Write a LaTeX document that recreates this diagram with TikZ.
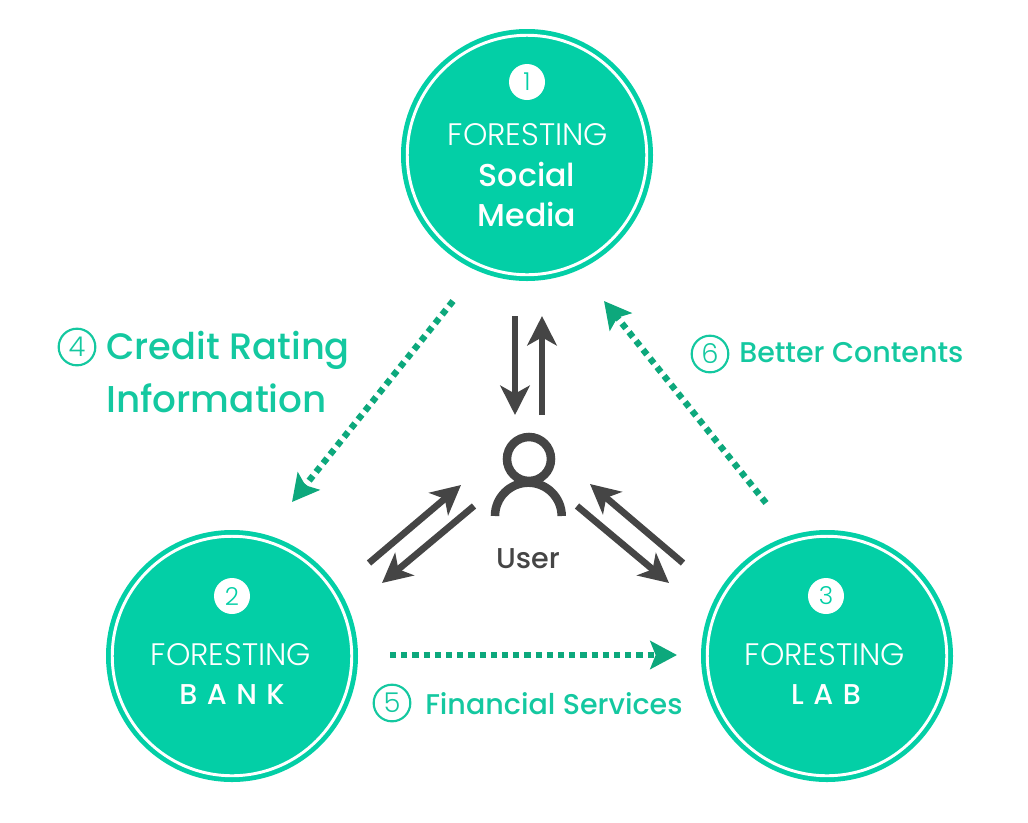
\documentclass[tikz,border=0pt]{standalone}
\usepackage{fontspec}
\usetikzlibrary{arrows.meta}
\newfontfamily\plight{Poppins Light}
\newfontfamily\pmed{Poppins Medium}
\definecolor{teal}{HTML}{03CFA6}
\definecolor{labelgreen}{HTML}{14C8A0}
\definecolor{dotgreen}{HTML}{0DA87C}
\definecolor{arrowgray}{HTML}{454545}
\newcommand{\fs}[1]{\fontsize{#1}{#1}\selectfont}
\tikzset{
  x=0.75pt,y=-0.75pt,
  disc/.style={circle,fill=teal,minimum size=189pt,inner sep=0pt,outer sep=0pt},
  ringline/.style={draw=white,line width=2.2pt,fill=none},
  badge/.style={circle,fill=white,minimum size=27pt,inner sep=0pt,text=teal,font=\plight\fs{18.5}},
  thin head/.style={text=white,font=\plight\fs{23.3},inner sep=0pt},
  bold head/.style={text=white,font=\pmed\fs{23.7},inner sep=0pt},
  numring/.style={circle,draw=labelgreen,line width=1.6pt,minimum size=27.5pt,inner sep=0pt,text=labelgreen,font=\plight\fs{20.5}},
  greenlabel/.style={text=labelgreen,inner sep=0pt,anchor=west},
  two way/.style={draw=arrowgray,line width=5pt,-{Stealth[length=22pt,width=22pt,inset=6pt]}},
  dotflow/.style={draw=dotgreen,line width=4.8pt,dash pattern=on 4.6pt off 3.8pt,-{Stealth[length=20pt,width=21pt,inset=4pt]}},
  usericon/.style={draw=arrowgray,line width=6.4pt},
}
\begin{document}
\begin{tikzpicture}
\useasboundingbox (0,0) rectangle (1028,822);
% discs
\node[disc] (social) at (527,155) {};
\node[disc] (bank) at (232,656) {};
\node[disc] (lab) at (827,656) {};
\draw[ringline] (social.center) circle[radius=89.8pt];
\draw[ringline] (bank.center) circle[radius=89.8pt];
\draw[ringline] (lab.center) circle[radius=89.8pt];
% disc content
\node[badge] (b1) at (527,82) {1};
\node[thin head] (t1) at (528,135) {FORESTING};
\node[bold head] (s1) at (527,174) {Social};
\node[bold head] (s2) at (527,214) {Media};
\node[badge] (b2) at (232,596) {2};
\node[thin head] (t2) at (231,655) {FORESTING};
\node[bold head,font=\pmed\fs{21.5}] (s3) at (232,695) {B\hspace{0.33em}A\hspace{0.33em}N\hspace{0.33em}K};
\node[badge] (b3) at (826,596) {3};
\node[thin head] (t3) at (825,655) {FORESTING};
\node[bold head,font=\pmed\fs{21.5}] (s4) at (826,695) {L\hspace{0.33em}A\hspace{0.33em}B};
% user
\draw[usericon] (529,459) circle[radius=16.5pt];
\draw[usericon] (495,516) arc[start angle=180,end angle=0,radius=25pt] coordinate (uend);
\node[text=arrowgray,font=\pmed\fs{21.5},inner sep=0pt] (user) at (528,559) {User};
% gray arrows
\coordinate (a1s) at (515,316); \coordinate (a1e) at (515,415);
\coordinate (a2s) at (542,415); \coordinate (a2e) at (542,316);
\coordinate (a3s) at (369,563); \coordinate (a3e) at (461,485);
\coordinate (a4s) at (474,506); \coordinate (a4e) at (382,583);
\coordinate (a5s) at (577,506); \coordinate (a5e) at (669,583);
\coordinate (a6s) at (683,563); \coordinate (a6e) at (590,484);
\draw[two way] (a1s) -- (a1e);
\draw[two way] (a2s) -- (a2e);
\draw[two way] (a3s) -- (a3e);
\draw[two way] (a4s) -- (a4e);
\draw[two way] (a5s) -- (a5e);
\draw[two way] (a6s) -- (a6e);
% dotted arrows
\coordinate (d4s) at (453,301); \coordinate (d4e) at (292,502);
\coordinate (d5s) at (390,655); \coordinate (d5e) at (677,655);
\coordinate (d6s) at (766,503); \coordinate (d6e) at (604,301);
\draw[dotflow] (d4s) -- (d4e);
\draw[dotflow] (d5s) -- (d5e);
\draw[dotflow] (d6s) -- (d6e);
% labels
\node[numring] (n4) at (77,347) {4};
\node[greenlabel,font=\pmed\fs{27.6}] (l4a) at (106,350) {Credit Rating};
\node[greenlabel,font=\pmed\fs{28}] (l4b) at (106,398) {Information};
\node[numring] (n5) at (392,703) {5};
\node[greenlabel,font=\pmed\fs{21.4}] (l5) at (425,704) {Financial Services};
\node[numring] (n6) at (710,354) {6};
\node[greenlabel,font=\pmed\fs{21.4}] (l6) at (739,353) {Better Contents};
\end{tikzpicture}
\end{document}
